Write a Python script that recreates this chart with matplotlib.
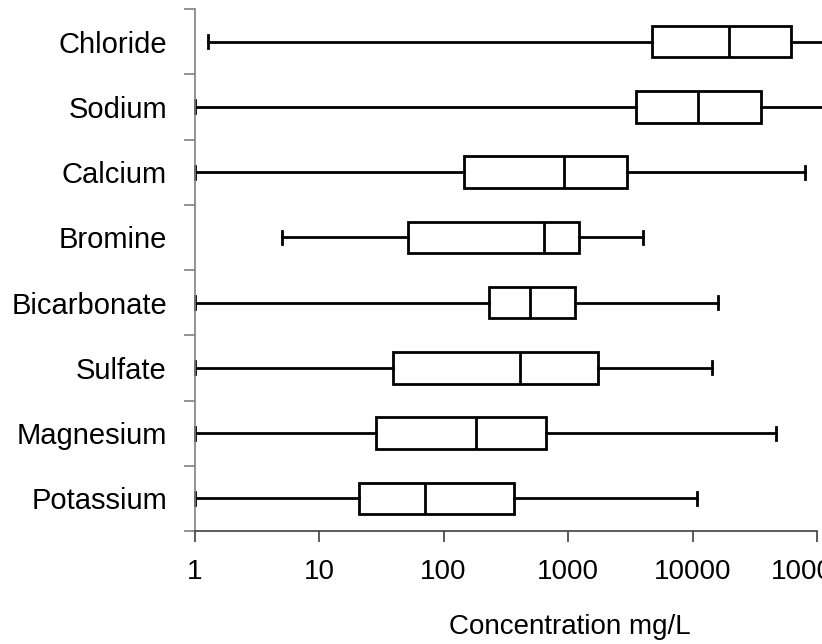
import matplotlib
matplotlib.use("Agg")
import matplotlib.pyplot as plt
from matplotlib.ticker import FixedLocator, NullFormatter

plt.rcParams['font.family'] = ['Liberation Sans', 'DejaVu Sans']

categories = ["Chloride", "Sodium", "Calcium", "Bromine", "Bicarbonate",
              "Sulfate", "Magnesium", "Potassium"]
whisker_low = [1.29, 1, 1, 5.0, 1, 1, 1, 1]
q1 = [4715, 3520, 147, 51.7, 231, 38.9, 28.8, 20.9]
median = [19500, 11130, 934, 645, 490, 413, 181, 70.3]
q3 = [61600, 35200, 2977, 1230, 1140, 1750, 666, 366]
whisker_high = [150000, 150000, 79400, 3980, 15960, 14350, 46450, 10960]
tick_values = [1, 10, 100, 1000, 10000, 100000]
tick_labels = ["1", "10", "100", "1000", "10000", "100000"]

fig = plt.figure(figsize=(8.22, 6.44), dpi=100)
ax = fig.add_axes([194.7 / 822, 1 - 531 / 644, (817 - 194.7) / 822, (531 - 9) / 644])

n = len(categories)
positions = [n - i for i in range(n)]
stats = []
for i in range(n):
    stats.append(dict(med=median[i], q1=q1[i], q3=q3[i],
                      whislo=whisker_low[i], whishi=whisker_high[i],
                      fliers=[], label=categories[i]))

lw = 2.0
ax.bxp(stats, positions=positions, orientation='horizontal', widths=0.48,
       capwidths=0.2, showfliers=False, patch_artist=True,
       boxprops=dict(facecolor='white', edgecolor='black', linewidth=lw, clip_on=False),
       medianprops=dict(color='black', linewidth=lw, clip_on=False),
       whiskerprops=dict(color='black', linewidth=lw, clip_on=False),
       capprops=dict(color='black', linewidth=lw, clip_on=False))

ax.set_xscale('log')
ax.set_xlim(1, 100000)
ax.set_ylim(0.5, n + 0.5)

ax.xaxis.set_major_locator(FixedLocator(tick_values))
ax.set_xticklabels(tick_labels)
ax.xaxis.set_minor_locator(FixedLocator([]))
ax.xaxis.set_minor_formatter(NullFormatter())

ax.yaxis.set_major_locator(FixedLocator([k + 0.5 for k in range(n + 1)]))
ax.yaxis.set_major_formatter(NullFormatter())
ax.yaxis.set_minor_locator(FixedLocator(positions))
ax.set_yticks(positions, categories, minor=True)

ax.tick_params(axis='x', which='major', length=8, width=1.2, color='#404040',
               labelsize=20, pad=12)
ax.tick_params(axis='y', which='major', length=8, width=1.2, color='#808080')
ax.tick_params(axis='y', which='minor', length=0, labelsize=21, pad=20)

for s in ['top', 'right']:
    ax.spines[s].set_visible(False)
ax.spines['left'].set_color('#808080')
ax.spines['left'].set_linewidth(1.2)
ax.spines['bottom'].set_color('#404040')
ax.spines['bottom'].set_linewidth(1.2)

ax.set_xlabel("Concentration mg/L", fontsize=20, va='center')
ax.xaxis.set_label_coords(0.603, -0.184)

fig.savefig("out.png", dpi=100)
